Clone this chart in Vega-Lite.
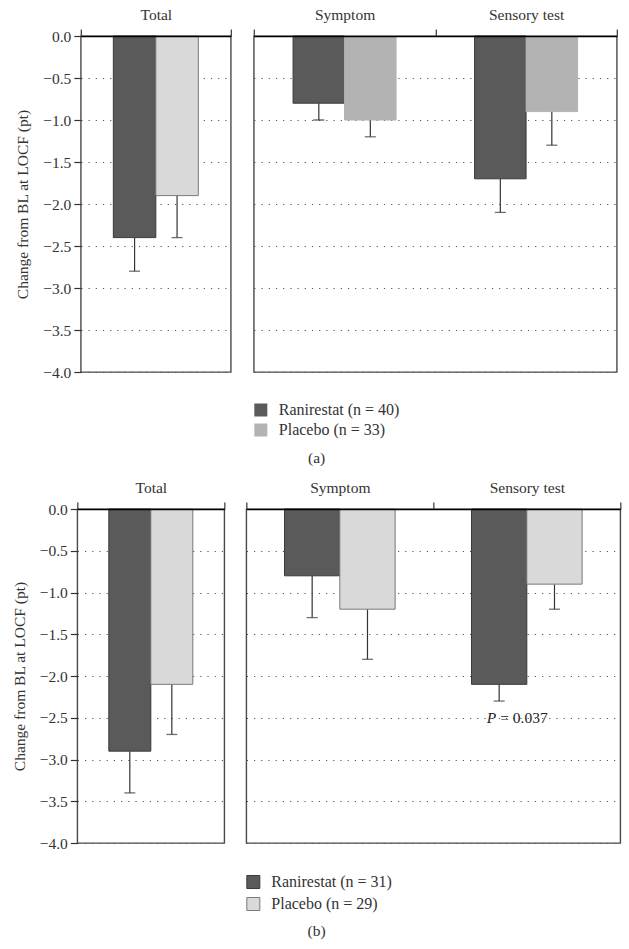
{
  "$schema": "https://vega.github.io/schema/vega-lite/v6.json",
  "padding": {"left": 11, "top": 6, "right": 5, "bottom": 5},
  "data": {"values": [
    {"panel": "a", "measure": "Total", "group": "Ranirestat", "mean": -2.4, "lower": -2.8},
    {"panel": "a", "measure": "Total", "group": "Placebo", "mean": -1.9, "lower": -2.4},
    {"panel": "a", "measure": "Symptom", "group": "Ranirestat", "mean": -0.8, "lower": -1.0},
    {"panel": "a", "measure": "Symptom", "group": "Placebo", "mean": -1.0, "lower": -1.2},
    {"panel": "a", "measure": "Sensory test", "group": "Ranirestat", "mean": -1.7, "lower": -2.1},
    {"panel": "a", "measure": "Sensory test", "group": "Placebo", "mean": -0.9, "lower": -1.3},
    {"panel": "b", "measure": "Total", "group": "Ranirestat", "mean": -2.9, "lower": -3.4},
    {"panel": "b", "measure": "Total", "group": "Placebo", "mean": -2.1, "lower": -2.7},
    {"panel": "b", "measure": "Symptom", "group": "Ranirestat", "mean": -0.8, "lower": -1.3},
    {"panel": "b", "measure": "Symptom", "group": "Placebo", "mean": -1.2, "lower": -1.8},
    {"panel": "b", "measure": "Sensory test", "group": "Ranirestat", "mean": -2.1, "lower": -2.3},
    {"panel": "b", "measure": "Sensory test", "group": "Placebo", "mean": -0.9, "lower": -1.2}
  ]},
  "spacing": 12,
  "center": true,
  "resolve": {"scale": {"fill": "independent", "stroke": "independent", "x": "independent", "xOffset": "independent", "y": "independent"}, "legend": {"fill": "independent", "stroke": "independent"}},
  "vconcat": [
    {
      "title": {"text": "(a)", "orient": "bottom", "anchor": "middle", "offset": 12},
      "spacing": 19,
      "resolve": {"scale": {"fill": "independent", "stroke": "independent", "x": "independent", "xOffset": "independent", "y": "independent"}, "legend": {"fill": "independent", "stroke": "independent"}},
      "hconcat": [
        {
          "width": 150, "height": 336,
          "transform": [{"filter": "datum.panel == 'a' && datum.measure == 'Total'"}],
          "encoding": {
            "x": {"field": "measure", "type": "nominal", "scale": {"domain": ["Total"], "paddingInner": 0, "paddingOuter": 0},
                  "axis": {"orient": "top", "title": null, "labelAngle": 0, "tickBand": "extent", "tickSize": 7, "tickColor": "#444", "tickWidth": 1.3, "labelPadding": 7, "labelFontSize": 15.5, "domainColor": "#000", "domainWidth": 1.5, "zindex": 1}},
            "xOffset": {"field": "group", "type": "nominal", "scale": {"domain": ["Ranirestat", "Placebo"], "paddingInner": 0, "paddingOuter": 0.765}}
          },
          "layer": [
            {"mark": {"type": "rule", "color": "#333", "strokeWidth": 1.2},
             "encoding": {
               "y": {"field": "mean", "type": "quantitative", "title": "Change from BL at LOCF (pt)", "scale": {"domain": [-4, 0], "nice": false, "zero": false},
                     "axis": {"values": [0, -0.5, -1, -1.5, -2, -2.5, -3, -3.5, -4], "format": ".1f", "labelExpr": "replace(datum.label, '-', '\u2212')", "labelFontSize": 15.5, "domain": false, "tickSize": 7, "tickColor": "#333", "tickWidth": 1.2, "labelPadding": 3, "grid": true, "gridDash": [1.2, 6], "gridColor": "#555", "gridWidth": 1, "titlePadding": 12, "titleFontSize": 15.5}},
               "y2": {"field": "lower"}
             }},
            {"mark": {"type": "tick", "orient": "horizontal", "size": 11, "thickness": 1.3, "color": "#333"},
             "encoding": {"y": {"field": "lower", "type": "quantitative", "title": "Change from BL at LOCF (pt)"}}},
            {"mark": {"type": "bar", "strokeWidth": 1},
             "encoding": {
               "y": {"field": "mean", "type": "quantitative", "title": "Change from BL at LOCF (pt)"},
               "fill": {"field": "group", "type": "nominal", "scale": {"domain": ["Ranirestat", "Placebo"], "range": ["#5a5a5a", "#d9d9d9"]}, "legend": null},
               "stroke": {"field": "group", "type": "nominal", "scale": {"domain": ["Ranirestat", "Placebo"], "range": ["#3a3a3a", "#7a7a7a"]}, "legend": null}
             }}
          ]
        },
        {
          "width": 363, "height": 336,
          "transform": [{"filter": "datum.panel == 'a' && datum.measure != 'Total'"}],
          "encoding": {
            "x": {"field": "measure", "type": "nominal", "scale": {"domain": ["Symptom", "Sensory test"], "paddingInner": 0, "paddingOuter": 0},
                  "axis": {"orient": "top", "title": null, "labelAngle": 0, "tickBand": "extent", "tickSize": 7, "tickColor": "#444", "tickWidth": 1.3, "labelPadding": 7, "labelFontSize": 15.5, "domainColor": "#000", "domainWidth": 1.5, "zindex": 1}},
            "xOffset": {"field": "group", "type": "nominal", "scale": {"domain": ["Ranirestat", "Placebo"], "paddingInner": 0, "paddingOuter": 0.762}}
          },
          "layer": [
            {"mark": {"type": "rule", "color": "#333", "strokeWidth": 1.2},
             "encoding": {
               "y": {"field": "mean", "type": "quantitative", "title": null, "scale": {"domain": [-4, 0], "nice": false, "zero": false},
                     "axis": {"values": [0, -0.5, -1, -1.5, -2, -2.5, -3, -3.5, -4], "labels": false, "ticks": false, "domain": false, "grid": true, "gridDash": [1.2, 6], "gridColor": "#555", "gridWidth": 1}},
               "y2": {"field": "lower"}
             }},
            {"mark": {"type": "tick", "orient": "horizontal", "size": 11, "thickness": 1.3, "color": "#333"},
             "encoding": {"y": {"field": "lower", "type": "quantitative", "title": null}}},
            {"mark": {"type": "bar", "strokeWidth": 1},
             "encoding": {
               "y": {"field": "mean", "type": "quantitative", "title": null},
               "fill": {"field": "group", "type": "nominal", "scale": {"domain": ["Ranirestat", "Placebo"], "range": ["#5a5a5a", "#b3b3b3"]},
                        "legend": {"orient": "none", "legendX": -1, "legendY": 366, "title": null, "symbolType": "square", "symbolSize": 169, "symbolStrokeWidth": 0, "rowPadding": 4, "labelOffset": 10, "labelFontSize": 16,
                                   "labelExpr": "datum.label == 'Ranirestat' ? 'Ranirestat (n = 40)' : 'Placebo (n = 33)'"}},
               "stroke": {"field": "group", "type": "nominal", "scale": {"domain": ["Ranirestat", "Placebo"], "range": ["#3a3a3a", "#b3b3b3"]}, "legend": null}
             }}
          ]
        }
      ]
    },
    {
      "title": {"text": "(b)", "orient": "bottom", "anchor": "middle", "offset": 10},
      "spacing": 18,
      "resolve": {"scale": {"fill": "independent", "stroke": "independent", "x": "independent", "xOffset": "independent", "y": "independent"}, "legend": {"fill": "independent", "stroke": "independent"}},
      "hconcat": [
        {
          "width": 147, "height": 334,
          "transform": [{"filter": "datum.panel == 'b' && datum.measure == 'Total'"}],
          "encoding": {
            "x": {"field": "measure", "type": "nominal", "scale": {"domain": ["Total"], "paddingInner": 0, "paddingOuter": 0},
                  "axis": {"orient": "top", "title": null, "labelAngle": 0, "tickBand": "extent", "tickSize": 7, "tickColor": "#444", "tickWidth": 1.3, "labelPadding": 7, "labelFontSize": 15.5, "domainColor": "#000", "domainWidth": 1.5, "zindex": 1}},
            "xOffset": {"field": "group", "type": "nominal", "scale": {"domain": ["Ranirestat", "Placebo"], "paddingInner": 0, "paddingOuter": 0.75}}
          },
          "layer": [
            {"mark": {"type": "rule", "color": "#333", "strokeWidth": 1.2},
             "encoding": {
               "y": {"field": "mean", "type": "quantitative", "title": "Change from BL at LOCF (pt)", "scale": {"domain": [-4, 0], "nice": false, "zero": false},
                     "axis": {"values": [0, -0.5, -1, -1.5, -2, -2.5, -3, -3.5, -4], "format": ".1f", "labelExpr": "replace(datum.label, '-', '\u2212')", "labelFontSize": 15.5, "domain": false, "tickSize": 7, "tickColor": "#333", "tickWidth": 1.2, "labelPadding": 3, "grid": true, "gridDash": [1.2, 6], "gridColor": "#555", "gridWidth": 1, "titlePadding": 12, "titleFontSize": 15.5}},
               "y2": {"field": "lower"}
             }},
            {"mark": {"type": "tick", "orient": "horizontal", "size": 11, "thickness": 1.3, "color": "#333"},
             "encoding": {"y": {"field": "lower", "type": "quantitative", "title": "Change from BL at LOCF (pt)"}}},
            {"mark": {"type": "bar", "strokeWidth": 1},
             "encoding": {
               "y": {"field": "mean", "type": "quantitative", "title": "Change from BL at LOCF (pt)"},
               "fill": {"field": "group", "type": "nominal", "scale": {"domain": ["Ranirestat", "Placebo"], "range": ["#5a5a5a", "#d9d9d9"]}, "legend": null},
               "stroke": {"field": "group", "type": "nominal", "scale": {"domain": ["Ranirestat", "Placebo"], "range": ["#3a3a3a", "#7a7a7a"]}, "legend": null}
             }}
          ]
        },
        {
          "width": 374, "height": 334,
          "transform": [{"filter": "datum.panel == 'b' && datum.measure != 'Total'"}],
          "encoding": {
            "x": {"field": "measure", "type": "nominal", "scale": {"domain": ["Symptom", "Sensory test"], "paddingInner": 0, "paddingOuter": 0},
                  "axis": {"orient": "top", "title": null, "labelAngle": 0, "tickBand": "extent", "tickSize": 7, "tickColor": "#444", "tickWidth": 1.3, "labelPadding": 7, "labelFontSize": 15.5, "domainColor": "#000", "domainWidth": 1.5, "zindex": 1}},
            "xOffset": {"field": "group", "type": "nominal", "scale": {"domain": ["Ranirestat", "Placebo"], "paddingInner": 0, "paddingOuter": 0.69}}
          },
          "layer": [
            {"mark": {"type": "rule", "color": "#333", "strokeWidth": 1.2},
             "encoding": {
               "y": {"field": "mean", "type": "quantitative", "title": null, "scale": {"domain": [-4, 0], "nice": false, "zero": false},
                     "axis": {"values": [0, -0.5, -1, -1.5, -2, -2.5, -3, -3.5, -4], "labels": false, "ticks": false, "domain": false, "grid": true, "gridDash": [1.2, 6], "gridColor": "#555", "gridWidth": 1}},
               "y2": {"field": "lower"}
             }},
            {"mark": {"type": "tick", "orient": "horizontal", "size": 11, "thickness": 1.3, "color": "#333"},
             "encoding": {"y": {"field": "lower", "type": "quantitative", "title": null}}},
            {"mark": {"type": "bar", "strokeWidth": 1},
             "encoding": {
               "y": {"field": "mean", "type": "quantitative", "title": null},
               "fill": {"field": "group", "type": "nominal", "scale": {"domain": ["Ranirestat", "Placebo"], "range": ["#5a5a5a", "#d9d9d9"]},
                        "legend": {"orient": "none", "legendX": -1, "legendY": 365, "title": null, "symbolType": "square", "symbolSize": 169, "symbolStrokeColor": "#777", "symbolStrokeWidth": 1, "rowPadding": 4, "labelOffset": 10, "labelFontSize": 16,
                                   "labelExpr": "datum.label == 'Ranirestat' ? 'Ranirestat (n = 31)' : 'Placebo (n = 29)'"}},
               "stroke": {"field": "group", "type": "nominal", "scale": {"domain": ["Ranirestat", "Placebo"], "range": ["#3a3a3a", "#7a7a7a"]}, "legend": null}
             }},
            {"transform": [{"filter": "datum.measure == 'Sensory test' && datum.group == 'Ranirestat'"}],
             "mark": {"type": "text", "text": "P", "fontStyle": "italic", "align": "right", "baseline": "middle", "dx": -3, "fontSize": 15.5, "color": "#222"},
             "encoding": {"y": {"datum": -2.5}}},
            {"transform": [{"filter": "datum.measure == 'Sensory test' && datum.group == 'Ranirestat'"}],
             "mark": {"type": "text", "text": "= 0.037", "align": "left", "baseline": "middle", "dx": 1, "fontSize": 15.5, "color": "#222"},
             "encoding": {"y": {"datum": -2.5}}}
          ]
        }
      ]
    }
  ],
  "config": {
    "font": "Liberation Serif",
    "view": {"stroke": "#4a4a4a", "strokeWidth": 1.4},
    "axis": {"labelFont": "Liberation Serif", "labelFontSize": 15, "labelColor": "#333", "titleFont": "Liberation Serif", "titleFontSize": 15.5, "titleFontWeight": "normal", "titleColor": "#333"},
    "legend": {"labelFont": "Liberation Serif", "labelFontSize": 16, "labelColor": "#333"},
    "title": {"font": "Liberation Serif", "fontSize": 15.5, "fontWeight": "normal", "color": "#333"}
  }
}
